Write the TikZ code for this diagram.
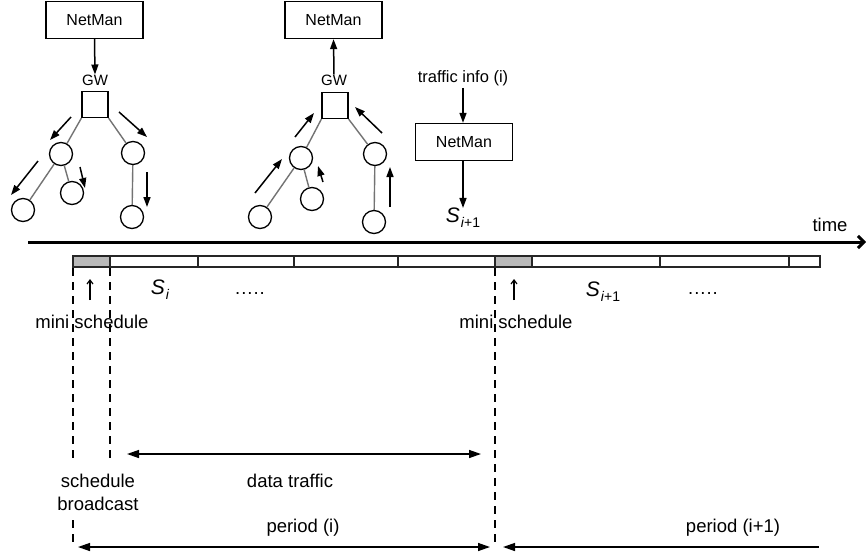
\documentclass[tikz,border=0pt]{standalone}
\usepackage{fontspec}
\setmainfont{Liberation Sans}
\usetikzlibrary{arrows.meta}

\begin{document}
\begin{tikzpicture}[x=1pt,y=-1pt,
  netbox/.style={draw,line width=1.3pt,minimum width=97pt,minimum height=37pt,inner sep=0pt,font=\fontsize{16}{18}\selectfont},
  gwbox/.style={draw,line width=1.3pt,minimum size=26pt,inner sep=0pt},
  dev/.style={circle,draw,line width=1.3pt,minimum size=23pt,inner sep=0pt},
  gwlabel/.style={inner sep=0pt,font=\fontsize{15}{17}\selectfont},
  link/.style={draw=black!55,line width=1.4pt},
  flow/.style={line width=1.5pt,-{Triangle[length=10pt,width=7pt]}},
  lbl/.style={inner sep=0pt,font=\fontsize{18.5}{23}\selectfont},
  slbl/.style={inner sep=0pt,font=\fontsize{21}{24}\selectfont\itshape},
  cell/.style={line width=1.3pt,draw=black!85},
  guide/.style={line width=1.4pt,dash pattern=on 8pt off 6pt},
  span/.style={line width=1.4pt,{Triangle[length=12pt,width=8pt]}-{Triangle[length=12pt,width=8pt]}},
  tick/.style={line width=1.2pt,-{Straight Barb[length=4pt,width=6pt]}}
]
\useasboundingbox (0,0) rectangle (866,552);

% ---------- schedule distribution: NetMan -> GW -> devices ----------
\node[netbox] (nm1) at (94.5,20) {NetMan};
\node[gwlabel] (gwl1) at (95,80) {GW};
\node[gwbox] (gw1) at (95,104.5) {};
\node[dev] (c11) at (61,154) {};
\node[dev] (c12) at (133,153) {};
\node[dev] (c13) at (23,210) {};
\node[dev] (c14) at (72,193) {};
\node[dev] (c15) at (132,217) {};
\draw[flow] (nm1.south) -- (gwl1.north);
\draw[link] (gw1.south west) -- (c11);
\draw[link] (gw1.south east) -- (c12);
\draw[link] (c11) -- (c13);
\draw[link] (c11) -- (c14);
\draw[link] (c12) -- (c15);
\draw[flow] (71,117) -- (50,140);
\draw[flow] (119,112) -- (147,137);
\draw[flow] (38,161) -- (11,195);
\draw[flow] (80,167) -- (85,188);
\draw[flow] (147,172) -- (147,207);

% ---------- traffic report: devices -> GW -> NetMan ----------
\node[netbox] (nm2) at (333.5,20) {NetMan};
\node[gwlabel] (gwl2) at (334,80) {GW};
\node[gwbox] (gw2) at (335,105.5) {};
\node[dev] (c21) at (301,158) {};
\node[dev] (c22) at (375,154) {};
\node[dev] (c23) at (260,217) {};
\node[dev] (c24) at (312,199) {};
\node[dev] (c25) at (374,222) {};
\draw[flow] (gwl2.north) -- (nm2.south);
\draw[link] (gw2.south west) -- (c21);
\draw[link] (gw2.south east) -- (c22);
\draw[link] (c21) -- (c23);
\draw[link] (c21) -- (c24);
\draw[link] (c22) -- (c25);
\draw[flow] (295,137) -- (314,113);
\draw[flow] (382,133) -- (355,107);
\draw[flow] (255,193) -- (282,159);
\draw[flow] (323,182) -- (318,166);
\draw[flow] (390,207) -- (390,167);

% ---------- schedule computation ----------
\node[inner sep=0pt,font=\fontsize{16.5}{19}\selectfont] (tinfo) at (463,78) {traffic info (i)};
\node[netbox] (nm3) at (464,142) {NetMan};
\node[slbl] (snext) at (463,218) {S\kern1pt\raisebox{-5pt}{\fontsize{14}{16}\selectfont\itshape i\upshape+1}};
\draw[flow] (tinfo.south) ++(0,2) -- (nm3.north -| tinfo.south);
\draw[flow] (nm3.south -| tinfo.south) -- (snext.north -| tinfo.south);

% ---------- time axis ----------
\coordinate (axL) at (28,242);
\coordinate (axR) at (866,242);
\draw[line width=3pt,-{Straight Barb[length=6pt,width=12pt]}] (axL) -- (axR);
\node[lbl] (tlab) at (830,225) {time};

% ---------- slot bar ----------
\fill[gray!55] (73,256) rectangle (110,267);
\fill[gray!55] (495,256) rectangle (532,267);
\draw[cell] (73,256) rectangle (820,267);
\foreach \x in {110,198,294,398,495,532,660,789}
  \draw[cell] (\x,256) -- (\x,267);

% ---------- slot labels ----------
\node[slbl] (si) at (160,290) {S\kern1pt\raisebox{-5pt}{\fontsize{14}{16}\selectfont\itshape i}};
\node[lbl] (dots1) at (250,294) {.\kern1pt.\kern1pt.\kern1pt.\kern1pt.};
\node[slbl] (si1) at (603,292) {S\kern1pt\raisebox{-5pt}{\fontsize{14}{16}\selectfont\itshape i\upshape+1}};
\node[lbl] (dots2) at (703,294) {.\kern1pt.\kern1pt.\kern1pt.\kern1pt.};

\coordinate (t1a) at (90,300);
\coordinate (t1b) at (90,279);
\coordinate (t2a) at (514,300);
\coordinate (t2b) at (514,279);
\draw[tick] (t1a) -- (t1b);
\draw[tick] (t2a) -- (t2b);
\node[lbl] (ms1) at (92,322) {mini schedule};
\node[lbl] (ms2) at (516,322) {mini schedule};

% ---------- period boundaries ----------
\draw[guide] (73,268) -- (73,462);
\draw[guide] (73,520) -- (73,542);
\draw[guide] (110,268) -- (110,462);
\draw[guide] (495,268) -- (495,547);

\node[lbl,align=center] (sb) at (98,492.5) {schedule\\broadcast};

\coordinate (dtL) at (127,454);
\coordinate (dtR) at (481,454);
\draw[span] (dtL) -- (dtR);
\node[lbl] (dt) at (290,481) {data traffic};

\coordinate (pL) at (78,547);
\coordinate (pR) at (490,547);
\draw[span] (pL) -- (pR);
\node[lbl] (pi) at (303,528) {period (i)};

\coordinate (qL) at (503,547);
\coordinate (qR) at (819,547);
\draw[line width=1.4pt,{Triangle[length=12pt,width=8pt]}-] (qL) -- (qR);
\node[lbl] (pi1) at (733,528) {period (i+1)};
\end{tikzpicture}
\end{document}
